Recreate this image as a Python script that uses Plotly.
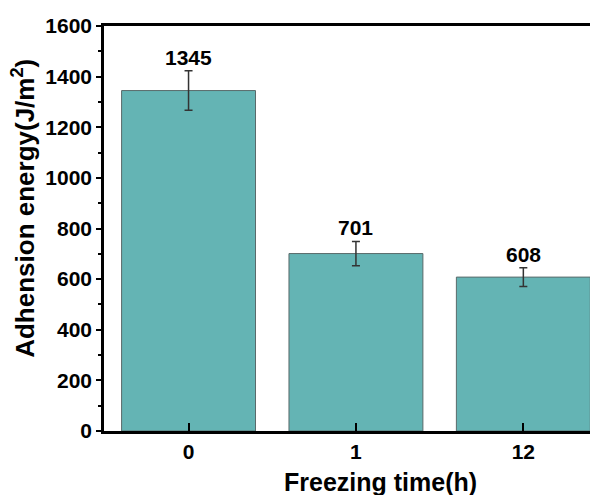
import plotly.graph_objects as go

categories = ["0", "1", "12"]
values = [1345, 701, 608]
errors = [78, 48, 37]
labels = ["1345", "701", "608"]
yticks = [0, 200, 400, 600, 800, 1000, 1200, 1400, 1600]

FONT = "Arial, Liberation Sans, sans-serif"
xpos = list(range(len(categories)))

fig = go.Figure()
fig.add_trace(go.Bar(
    x=xpos, y=values, width=0.8,
    marker=dict(color="#64b4b4", line=dict(color="#5a6a6a", width=1)),
    error_y=dict(type="data", array=errors, visible=True, color="#333333", thickness=1.5, width=4),
    showlegend=False,
))

for xi, v, e, t in zip(xpos, values, errors, labels):
    fig.add_annotation(x=xi, y=v + e, text=f"<b>{t}</b>", showarrow=False,
                       yanchor="bottom", yshift=0, font=dict(family=FONT, size=21, color="black"))

fig.add_annotation(xref="paper", yref="paper", x=-0.162, y=0.551, textangle=-90,
                   text="<b>Adhension energy(J/m<sup>2</sup>)</b>", showarrow=False,
                   xanchor="center", yanchor="middle", font=dict(family=FONT, size=26, color="black"))
fig.add_annotation(xref="paper", yref="paper", x=0.559, y=-0.125,
                   text="<b>Freezing time(h)</b>", showarrow=False,
                   xanchor="center", yanchor="middle", font=dict(family=FONT, size=25, color="black"))

fig.update_layout(
    width=598, height=495,
    margin=dict(l=96, r=8, t=18, b=72, autoexpand=False),
    paper_bgcolor="white", plot_bgcolor="white",
    font=dict(family=FONT, size=20, color="black"),
    bargap=0.2,
)
fig.update_xaxes(
    range=[-0.505, 2.446], tickmode="array", tickvals=xpos,
    ticktext=[f"<b>{c}</b>" for c in categories],
    showline=True, linecolor="black", linewidth=2.5, mirror=True,
    ticks="inside", ticklen=8, tickwidth=2, tickcolor="black",
    showgrid=False, zeroline=False, automargin=False,
    tickfont=dict(family=FONT, size=21, color="black"),
)
fig.update_yaxes(
    range=[0, 1600], tickmode="array",
    tickvals=yticks,
    ticktext=[f"<b>{v}</b>" for v in yticks],
    showline=True, linecolor="black", linewidth=2.5,
    ticks="outside", ticklen=5, tickwidth=2, tickcolor="black",
    minor=dict(ticks="outside", ticklen=3, tickwidth=1.5, tickcolor="black",
               tickmode="array", tickvals=[100, 300, 500, 700, 900, 1100, 1300, 1500]),
    showgrid=False, zeroline=False, automargin=False,
    tickfont=dict(family=FONT, size=21, color="black"),
)

fig.write_html("out.html")
